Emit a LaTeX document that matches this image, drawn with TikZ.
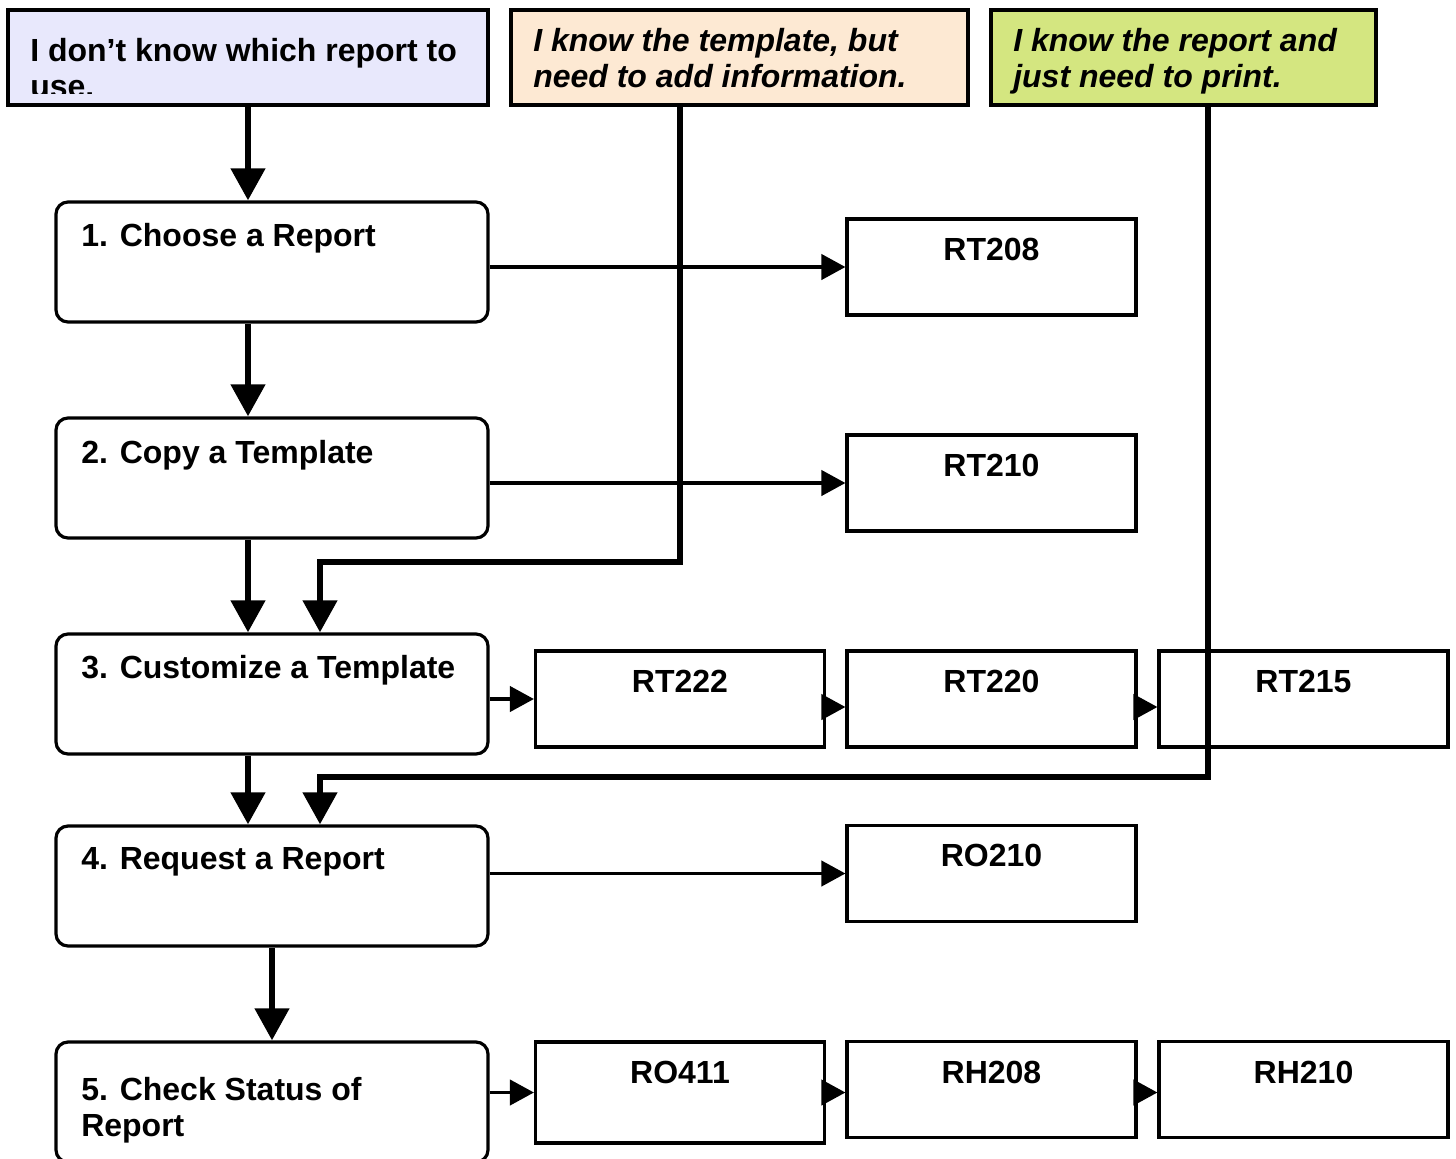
\documentclass[tikz,border=0pt]{standalone}
\usepackage{fontspec}
\setmainfont{Liberation Sans}
\usetikzlibrary{arrows.meta}

\definecolor{unsureblue}{RGB}{232,232,252}
\definecolor{templatepeach}{RGB}{253,233,211}
\definecolor{printgreen}{RGB}{212,230,128}

\begin{document}
\begin{tikzpicture}[x=0.75pt,y=0.75pt,yscale=-1,xscale=1,
  boxline/.style={line width=2.4pt},
  notebox/.style={draw, boxline, minimum height=71.25pt, inner sep=0pt},
  stepbox/.style={draw, boxline, rounded corners=9pt, minimum width=324pt, minimum height=90pt, inner sep=0pt},
  reportbox/.style={draw, boxline, minimum width=216.75pt, minimum height=72pt, inner sep=0pt},
  boxtext/.style={inner sep=0pt, align=left, font=\fontsize{24pt}{27pt}\selectfont\bfseries},
  notetext/.style={boxtext, font=\fontsize{24pt}{27pt}\selectfont\bfseries\itshape},
  bigarrow/.style={line width=4.8pt, -{Triangle[length=24pt,width=25pt]}},
  smallarrow/.style={boxline, -{Triangle[length=18pt,width=19pt]}}]
\clip (0,0) rectangle (1456,1158);

%Shape: starting points
\node [notebox, fill=unsureblue, minimum width=360pt] (unsure) at (248,57.5) {};
\node [notebox, fill=templatepeach, minimum width=342.75pt] (knowtemplate) at (739.5,57.5) {};
\node [notebox, fill=printgreen, minimum width=288.75pt] (knowreport) at (1183.5,57.5) {};

%Shape: steps
\node [stepbox] (choose) at (272,262) {};
\node [stepbox] (copy) at (272,478) {};
\node [stepbox] (customize) at (272,694) {};
\node [stepbox] (request) at (272,886) {};
\node [stepbox] (check) at (272,1102) {};

%Shape: reports
\node [reportbox] (rt208) at (991.5,267) {};
\node [reportbox] (rt210) at (991.5,483) {};
\node [reportbox] (rt222) at (680,699) {};
\node [reportbox] (rt220) at (991.5,699) {};
\node [reportbox] (rt215) at (1303.5,699) {};
\node [reportbox] (ro210) at (991.5,873.5) {};
\node [reportbox, minimum height=75.75pt] (ro411) at (680,1092.5) {};
\node [reportbox] (rh208) at (991.5,1089.5) {};
\node [reportbox] (rh210) at (1303.5,1089.5) {};

% Text Node
\begin{scope}
\clip (10,12) rectangle (486,93);
\node [boxtext, anchor=north west] (unsuretext) at (30,38) {I don’t know which report to\\use.};
\end{scope}
% Text Node
\node [notetext, anchor=north west] (knowtemplatetext) at (533,28) {I know the template, but\\need to add information.};
% Text Node
\node [notetext, anchor=north west] (knowreporttext) at (1013,28) {I know the report and\\just need to print.};
% Text Node
\node [boxtext, anchor=north west] (choosetext) at (81,223) {1. Choose a Report};
\node [boxtext, anchor=north west] (copytext) at (81,440) {2. Copy a Template};
\node [boxtext, anchor=north west] (customizetext) at (81,655) {3. Customize a Template};
\node [boxtext, anchor=north west] (requesttext) at (81,847) {4. Request a Report};
\node [boxtext, anchor=north west] (checktext) at (81,1077) {5. Check Status of\\Report};
% Text Node
\node [boxtext, anchor=north] (rt208text) at (991.5,238) {RT208};
\node [boxtext, anchor=north] (rt210text) at (991.5,454) {RT210};
\node [boxtext, anchor=north] (rt222text) at (680,670) {RT222};
\node [boxtext, anchor=north] (rt220text) at (991.5,670) {RT220};
\node [boxtext, anchor=north] (rt215text) at (1303.5,670) {RT215};
\node [boxtext, anchor=north] (ro210text) at (991.5,844) {RO210};
\node [boxtext, anchor=north] (ro411text) at (680,1061) {RO411};
\node [boxtext, anchor=north] (rh208text) at (991.5,1061) {RH208};
\node [boxtext, anchor=north] (rh210text) at (1303.5,1061) {RH210};

%Straight Lines: steps to reports
\draw [smallarrow] (choose.east |- rt208.west) -- (rt208.west);
\draw [smallarrow] (copy.east |- rt210.west) -- (rt210.west);
\draw [smallarrow] (customize.east |- rt222.west) -- (rt222.west);
\draw [smallarrow] (rt222.east |- 0,707) -- (rt220.west |- 0,707);
\draw [smallarrow] (rt220.east |- 0,707) -- (rt215.west |- 0,707);
\draw [smallarrow] (request.east |- ro210.west) -- (ro210.west);
\draw [smallarrow] (check.east |- ro411.west) -- (ro411.west);
\draw [smallarrow] (ro411.east) -- (ro411.east -| rh208.west);
\draw [smallarrow] (rh208.east |- ro411.east) -- (rh210.west |- ro411.east);

%Straight Lines: main path
\coordinate (mainline) at (248,0);
\coordinate (templatejoin) at (320,562);
\coordinate (reportjoin) at (320,777);
\draw [bigarrow] (unsure.south) -- (unsure.south |- choose.north);
\draw [bigarrow] (mainline |- choose.south) -- (mainline |- copy.north);
\draw [bigarrow] (mainline |- copy.south) -- (mainline |- customize.north);
\draw [bigarrow] (mainline |- customize.south) -- (mainline |- request.north);
\draw [bigarrow] (request.south) -- (check.north);
%Straight Lines: short cuts
\draw [bigarrow] (rt222.north |- knowtemplate.south) |- (templatejoin) -- (templatejoin |- customize.north);
\draw [bigarrow] (1208,0 |- knowreport.south) |- (reportjoin) -- (reportjoin |- request.north);
\end{tikzpicture}
\end{document}
